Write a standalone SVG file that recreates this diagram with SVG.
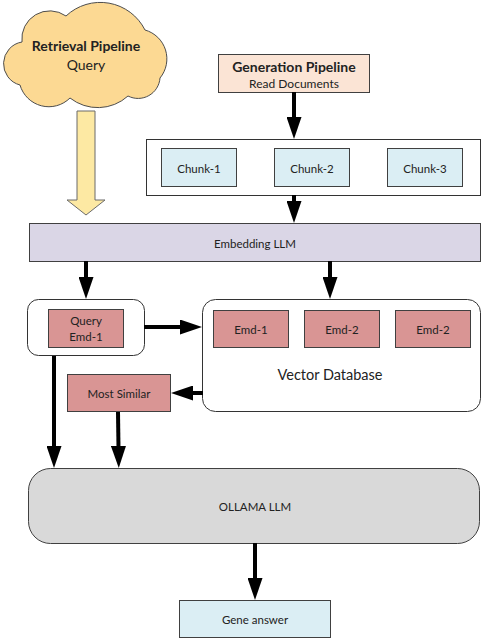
<svg xmlns="http://www.w3.org/2000/svg" width="482" height="639" viewBox="0 0 482 639">
<style>
text{font-family:Lato,"Liberation Sans",sans-serif;fill:#222;text-anchor:middle;dominant-baseline:central}
.box{stroke:#404040;stroke-width:1}
.blue{fill:#dbeef4}
.rose{fill:#d99594}
.cont{fill:#fff;stroke:#333;stroke-width:1}
.conn line{stroke:#000;stroke-width:4;marker-end:url(#ah)}
</style>
<defs>
<marker id="ah" markerUnits="userSpaceOnUse" markerWidth="22" markerHeight="15" refX="2" refY="7.5" orient="auto">
<path d="M0,0 L22,7.5 L0,15 z" fill="#000"/>
</marker>
</defs>
<rect width="482" height="639" fill="#fff"/>

<g id="retrieval">
<path d="M22,42 A28,28 0 0 1 66,16 A50,50 0 0 1 145,30 A30,30 0 0 1 160,78 A22,22 0 0 1 128,96 A45,45 0 0 1 70,98 A30,30 0 0 1 20,85 A22,22 0 0 1 22,42 Z" fill="#fcd993" stroke="#4d4d4d" stroke-width="1"/>
<text x="86" y="45" font-size="14" font-weight="bold">Retrieval Pipeline</text>
<text x="86" y="64" font-size="14">Query</text>
</g>

<g id="big-arrow">
<path d="M77,111 L95,111 L95,200 L105,200 L86,215 L67,200 L77,200 Z" fill="#fde9a3" stroke="#6b6b6b" stroke-width="1"/>
</g>

<g id="generation">
<rect class="box" x="218.5" y="54.5" width="151" height="38" fill="#fbe4d5"/>
<text x="294" y="66" font-size="14" font-weight="bold">Generation Pipeline</text>
<text x="294" y="83" font-size="12">Read Documents</text>
</g>

<g id="chunks">
<rect class="cont" x="146.5" y="139.5" width="334" height="56"/>
<g id="chunk1"><rect class="box blue" x="161.5" y="148.5" width="75" height="38"/><text x="199" y="168" font-size="11.5">Chunk-1</text></g>
<g id="chunk2"><rect class="box blue" x="274.5" y="148.5" width="75" height="38"/><text x="312" y="168" font-size="11.5">Chunk-2</text></g>
<g id="chunk3"><rect class="box blue" x="387.5" y="148.5" width="75" height="38"/><text x="425" y="168" font-size="11.5">Chunk-3</text></g>
</g>

<g id="embedding">
<rect class="box" x="29.5" y="223.5" width="451" height="38" fill="#dad6e6"/>
<text x="255" y="243" font-size="11.5">Embedding LLM</text>
</g>

<g id="query">
<rect class="cont" x="27.5" y="299.5" width="117" height="56" rx="11"/>
<rect class="box rose" x="48.5" y="309.5" width="75" height="38"/>
<text x="86" y="320" font-size="11.5">Query</text>
<text x="86" y="336" font-size="11.5">Emd-1</text>
</g>

<g id="vectordb">
<rect class="cont" x="202.5" y="299.5" width="278" height="112" rx="13"/>
<g id="emd1"><rect class="box rose" x="213.5" y="310.5" width="75" height="37"/><text x="251" y="329" font-size="11.5">Emd-1</text></g>
<g id="emd2"><rect class="box rose" x="304.5" y="310.5" width="75" height="37"/><text x="342" y="329" font-size="11.5">Emd-2</text></g>
<g id="emd3"><rect class="box rose" x="395.5" y="310.5" width="75" height="37"/><text x="433" y="329" font-size="11.5">Emd-2</text></g>
<text x="330" y="374" font-size="14.5">Vector Database</text>
</g>

<g id="most-similar">
<rect class="box rose" x="67.5" y="374.5" width="103" height="37"/>
<text x="119" y="393" font-size="11.5">Most Similar</text>
</g>

<g id="ollama">
<rect x="28.5" y="468.5" width="451" height="75" rx="22" fill="#d9d9d9" stroke="#404040" stroke-width="1"/>
<text x="255" y="506" font-size="11.5">OLLAMA LLM</text>
</g>

<g id="gene">
<rect class="box blue" x="179.5" y="600.5" width="151" height="37"/>
<text x="255" y="619" font-size="11.5">Gene answer</text>
</g>

<g id="connectors" class="conn">
<line x1="294" y1="92" x2="294" y2="119"/>
<line x1="294" y1="195" x2="294" y2="203"/>
<line x1="86" y1="261" x2="86" y2="279"/>
<line x1="330" y1="261" x2="330" y2="279"/>
<line x1="144" y1="327" x2="182" y2="327"/>
<line x1="203" y1="393" x2="191" y2="393"/>
<line x1="54" y1="356" x2="54" y2="448"/>
<line x1="118" y1="412" x2="118.5" y2="448"/>
<line x1="255" y1="543" x2="255" y2="580"/>
</g>
</svg>
